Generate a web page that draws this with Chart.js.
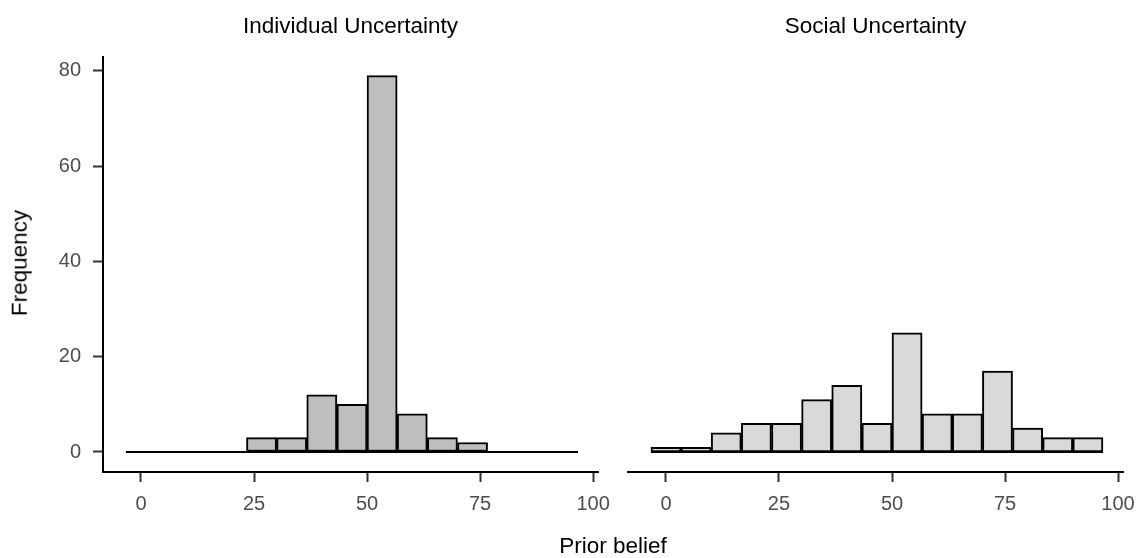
<!DOCTYPE html>
<html>
<head>
<meta charset="utf-8">
<script src="https://cdn.jsdelivr.net/npm/chart.js@4.4.1/dist/chart.umd.min.js"></script>
<style>
  html, body { margin: 0; padding: 0; background: #fff; }
  body { width: 1140px; height: 558px; position: relative; overflow: hidden; font-family: 'Liberation Sans', Arial, sans-serif; }
  canvas { position: absolute; top: 0; }
  #c1 { left: 0; }
  #c2 { left: 600px; }
  .lbl { position: absolute; font-size: 22.5px; color: #000; white-space: nowrap; line-height: 1; }
  #ylab { left: 20px; top: 263px; transform: translate(-50%, -50%) rotate(-90deg); }
  #xlab { left: 613px; top: 546px; transform: translate(-50%, -50%); }
</style>
</head>
<body>
<canvas id="c1" width="620" height="558"></canvas>
<canvas id="c2" width="570" height="558"></canvas>
<div class="lbl" id="ylab">Frequency</div>
<div class="lbl" id="xlab">Prior belief</div>
<script>
// ---- data ----
const binWidth = 6.667;
const binCenters = [0, 6.667, 13.333, 20, 26.667, 33.333, 40, 46.667, 53.333, 60, 66.667, 73.333, 80, 86.667, 93.333];
const individualCounts = [0, 0, 0, 0, 3, 3, 12, 10, 79, 8, 3, 2, 0, 0, 0];
const socialCounts = [1, 1, 4, 6, 6, 11, 14, 6, 25, 8, 8, 17, 5, 3, 3];
const xTicks = [0, 25, 50, 75, 100];
const yTicks = [0, 20, 40, 60, 80];
const panelTitles = ['Individual Uncertainty', 'Social Uncertainty'];

Chart.defaults.font.family = "'Liberation Sans', Arial, sans-serif";
Chart.defaults.animation = false;

const X_MIN = -8.4, X_MAX = 101.1, Y_MIN = -4.2, Y_MAX = 82.9;

function makePanel(canvasId, title, counts, fill, showY, padding) {
  const barData = binCenters.map((c, i) => ({ x: c, y: counts[i] }));
  const baseData = [
    { x: binCenters[0] - binWidth / 2, y: 0 },
    { x: binCenters[binCenters.length - 1] + binWidth / 2, y: 0 }
  ];
  return new Chart(document.getElementById(canvasId), {
    type: 'bar',
    data: {
      datasets: [
        {
          type: 'line',
          data: baseData,
          borderColor: '#000',
          borderWidth: 2,
          pointRadius: 0,
          order: 2
        },
        {
          type: 'bar',
          data: barData,
          backgroundColor: fill,
          borderColor: '#000',
          borderWidth: 2,
          borderSkipped: false,
          barPercentage: 1,
          categoryPercentage: 1,
          order: 1
        }
      ]
    },
    options: {
      responsive: false,
      devicePixelRatio: 1,
      animation: false,
      layout: { padding: padding },
      plugins: {
        legend: { display: false },
        tooltip: { enabled: false },
        title: {
          display: true,
          text: title,
          fullSize: false,
          color: '#000',
          font: { size: 22.5, weight: 'normal' },
          padding: { top: 13.5, bottom: 16.5 }
        }
      },
      scales: {
        x: {
          type: 'linear',
          offset: false,
          min: X_MIN,
          max: X_MAX,
          afterBuildTicks: s => { s.ticks = xTicks.map(v => ({ value: v })); },
          afterFit: s => { s.height = 50; },
          grid: { display: true, offset: false, drawOnChartArea: false, drawTicks: true, tickLength: 10, tickWidth: 2, tickColor: '#333' },
          border: { display: true, color: '#000', width: 2 },
          ticks: { color: '#4d4d4d', font: { size: 20 }, padding: 10, maxRotation: 0, autoSkip: false }
        },
        y: {
          display: showY,
          min: Y_MIN,
          max: Y_MAX,
          afterBuildTicks: s => { s.ticks = yTicks.map(v => ({ value: v })); },
          afterFit: s => { s.width = showY ? 103 : 0; },
          grid: { display: true, drawOnChartArea: false, drawTicks: true, tickLength: 10, tickWidth: 2, tickColor: '#333' },
          border: { display: true, color: '#000', width: 2 },
          ticks: { color: '#4d4d4d', font: { size: 20 }, padding: 12, autoSkip: false }
        }
      }
    }
  });
}

makePanel('c1', panelTitles[0], individualCounts, '#bebebe', true, { top: 0, left: 0, right: 21, bottom: 36 });
makePanel('c2', panelTitles[1], socialCounts, '#d9d9d9', false, { top: 0, left: 28, right: 47, bottom: 36 });
</script>
</body>
</html>
